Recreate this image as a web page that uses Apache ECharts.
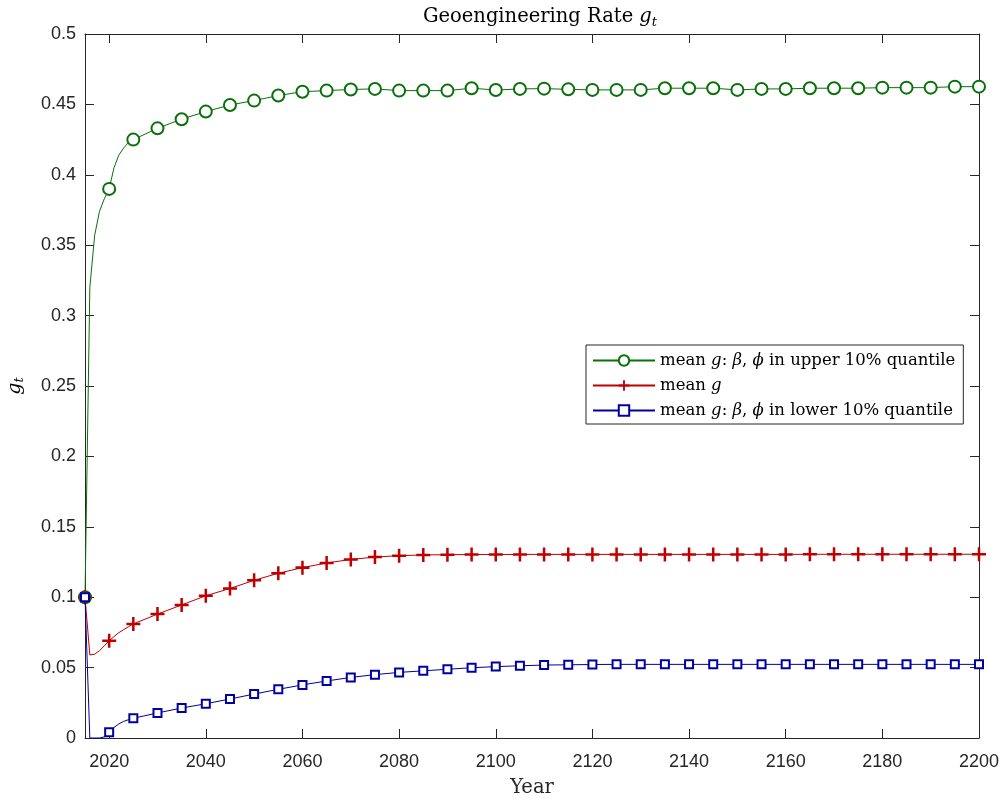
<!DOCTYPE html>
<html>
<head>
<meta charset="utf-8">
<script src="https://cdn.jsdelivr.net/npm/echarts@6/dist/echarts.min.js"></script>
<style>html,body{margin:0;padding:0;background:#fff}#c{width:1003px;height:799px}</style>
</head>
<body>
<div id="c"></div>
<script>
const years = [2015,2016,2017,2018,2019,2020,2021,2022,2023,2024,2025,2030,2035,2040,2045,2050,2055,2060,2065,2070,2075,2080,2085,2090,2095,2100,2105,2110,2115,2120,2125,2130,2135,2140,2145,2150,2155,2160,2165,2170,2175,2180,2185,2190,2195,2200];
const upperG = [0.1,0.32,0.357,0.374,0.383,0.390,0.405,0.414,0.419,0.423,0.425,0.433,0.4395,0.4449,0.4496,0.4527,0.4563,0.459,0.4598,0.4606,0.461,0.4598,0.4598,0.4598,0.4615,0.4602,0.461,0.4612,0.4607,0.4603,0.4603,0.4603,0.4615,0.4615,0.4615,0.4603,0.461,0.461,0.4615,0.4615,0.4615,0.4619,0.4619,0.4619,0.4626,0.4626];
const meanG = [0.1,0.059,0.0595,0.062,0.0655,0.069,0.072,0.0748,0.077,0.079,0.081,0.088,0.0945,0.101,0.1062,0.112,0.117,0.121,0.1243,0.1268,0.1285,0.1295,0.13,0.1302,0.1303,0.1303,0.1304,0.1304,0.1304,0.1304,0.1304,0.1304,0.1304,0.1304,0.1304,0.1304,0.1304,0.1304,0.1305,0.1305,0.1305,0.1305,0.1305,0.1305,0.1305,0.1305];
const lowerG = [0.1,0.0,0.0,0.0,0.0008,0.004,0.0075,0.0100,0.0118,0.013,0.014,0.0178,0.0213,0.0243,0.0277,0.0312,0.0346,0.0377,0.0405,0.043,0.045,0.0466,0.0477,0.0488,0.0499,0.0507,0.0513,0.0518,0.052,0.0522,0.0523,0.0523,0.0523,0.0523,0.0523,0.0523,0.0523,0.0523,0.0523,0.0523,0.0523,0.0523,0.0523,0.0523,0.0523,0.0523];
const xTicks = [2020,2040,2060,2080,2100,2120,2140,2160,2180,2200];
const yTicks = [0,0.05,0.1,0.15,0.2,0.25,0.3,0.35,0.4,0.45,0.5];
const markerYears = [2015,2020,2025,2030,2035,2040,2045,2050,2055,2060,2065,2070,2075,2080,2085,2090,2095,2100,2105,2110,2115,2120,2125,2130,2135,2140,2145,2150,2155,2160,2165,2170,2175,2180,2185,2190,2195,2200];

const AX = '#262626';
const SERIF = '"DejaVu Serif","Liberation Serif",serif';
const SANS = '"Liberation Sans",Arial,sans-serif';
const plusPath = 'path://M4.1,0h1.8v10h-1.8z M0,4.1h10v1.8h-10z';

function build(vals) {
  return years.map((y, i) => {
    const item = { value: [y, vals[i]] };
    if (markerYears.indexOf(y) < 0) item.symbol = 'none';
    return item;
  });
}

const chart = echarts.init(document.getElementById('c'), null, { renderer: 'canvas' });
const rich = {
  n: { fontFamily: SERIF, fontSize: 16.5, color: '#000' },
  i: { fontFamily: SERIF, fontSize: 16.5, fontStyle: 'italic', color: '#000' }
};
const legendText = {
  upper: '{n|mean }{i|g}{n|: }{i|β}{n|, }{i|ϕ}{n| in upper 10% quantile}',
  mean: '{n|mean }{i|g}',
  lower: '{n|mean }{i|g}{n|: }{i|β}{n|, }{i|ϕ}{n| in lower 10% quantile}'
};

chart.setOption({
  animation: false,
  backgroundColor: '#fff',
  title: {
    text: '{n|Geoengineering Rate }{i|g}{s|t}',
    left: 535, top: -1, textAlign: 'center',
    textStyle: {
      fontWeight: 'normal',
      rich: {
        n: { fontFamily: SERIF, fontSize: 19.5, fontWeight: 'normal', color: '#000', lineHeight: 26 },
        i: { fontFamily: SERIF, fontSize: 19.5, fontStyle: 'italic', fontWeight: 'normal', color: '#000', lineHeight: 26 },
        s: { fontFamily: SERIF, fontSize: 13, fontStyle: 'italic', fontWeight: 'normal', color: '#000', padding: [11, 0, 0, 0], lineHeight: 26 }
      }
    }
  },
  legend: {
    orient: 'vertical',
    left: 586, top: 345,
    padding: [7, 8, 5, 6],
    backgroundColor: '#fff',
    borderColor: AX, borderWidth: 1,
    borderRadius: 0,
    itemWidth: 62, itemHeight: 13, itemGap: 8,
    data: ['upper', 'mean', 'lower'],
    formatter: (name) => legendText[name],
    textStyle: { rich: rich }
  },
  grid: { left: 85, right: 24, top: 34, bottom: 61, containLabel: false, outerBoundsMode: 'none' },
  xAxis: [{
    type: 'value', min: 2015, max: 2200, position: 'bottom',
    name: 'Year', nameLocation: 'middle', nameGap: 40,
    nameTextStyle: { fontFamily: SERIF, fontSize: 19.5, color: '#262626' },
    axisLine: { show: true, onZero: false, lineStyle: { color: AX, width: 1 } },
    axisTick: { show: true, inside: true, length: 9, customValues: xTicks, lineStyle: { color: AX } },
    axisLabel: { customValues: xTicks, margin: 15, fontFamily: SANS, fontSize: 18, color: AX, formatter: (v) => String(v) },
    splitLine: { show: false }
  }, {
    type: 'value', min: 2015, max: 2200, position: 'top',
    axisLine: { show: true, onZero: false, lineStyle: { color: AX, width: 1 } },
    axisTick: { show: true, inside: true, length: 9, customValues: xTicks, lineStyle: { color: AX } },
    axisLabel: { show: false },
    splitLine: { show: false }
  }],
  yAxis: [{
    type: 'value', min: 0, max: 0.5, interval: 0.05, position: 'left',
    name: '{i|g}{s|t}', nameLocation: 'middle', nameGap: 58, nameRotate: 90,
    nameTextStyle: {
      rich: {
        i: { fontFamily: SERIF, fontSize: 19, fontStyle: 'italic', color: '#000', lineHeight: 24 },
        s: { fontFamily: SERIF, fontSize: 13, fontStyle: 'italic', color: '#000', padding: [10, 0, 0, 0], lineHeight: 24 }
      }
    },
    axisLine: { show: true, onZero: false, lineStyle: { color: AX, width: 1 } },
    axisTick: { show: true, inside: true, length: 9, lineStyle: { color: AX } },
    axisLabel: { margin: 9, fontFamily: SANS, fontSize: 18, color: AX,
      formatter: (v) => { const t = yTicks.find(k => Math.abs(k - v) < 1e-9); return String(t !== undefined ? t : v); } },
    splitLine: { show: false }
  }, {
    type: 'value', min: 0, max: 0.5, interval: 0.05, position: 'right',
    axisLine: { show: true, onZero: false, lineStyle: { color: AX, width: 1 } },
    axisTick: { show: true, inside: true, length: 9, lineStyle: { color: AX } },
    axisLabel: { show: false },
    splitLine: { show: false }
  }],
  series: [{
    name: 'upper', type: 'line', data: build(upperG),
    symbol: 'emptyCircle', symbolSize: 12, showAllSymbol: true, clip: false,
    lineStyle: { color: '#0a700a', width: 1 },
    itemStyle: { color: '#0a700a', borderColor: '#0a700a', borderWidth: 2 },
    emphasis: { disabled: true }, z: 2
  }, {
    name: 'mean', type: 'line', data: build(meanG),
    symbol: plusPath, symbolSize: 14, showAllSymbol: true, clip: false,
    lineStyle: { color: '#c00000', width: 1 },
    itemStyle: { color: '#c00000' },
    emphasis: { disabled: true }, z: 3
  }, {
    name: 'lower', type: 'line', data: build(lowerG),
    symbol: 'emptyRect', symbolSize: 8, showAllSymbol: true, clip: false,
    lineStyle: { color: '#0000a0', width: 1 },
    itemStyle: { color: '#0000a0', borderColor: '#0000a0', borderWidth: 2 },
    emphasis: { disabled: true }, z: 4
  }]
});
</script>
</body>
</html>
